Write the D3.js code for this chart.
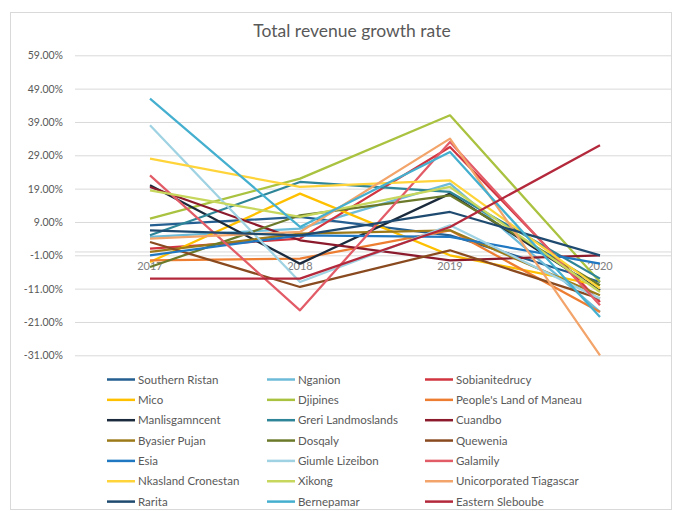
<!DOCTYPE html>
<html>
<head>
<meta charset="utf-8">
<script src="https://cdn.jsdelivr.net/npm/d3@7"></script>
<style>
  body { margin: 0; background: #fff; }
  svg { display: block; font-family: Lato, "Open Sans", sans-serif; }
</style>
</head>
<body>
<svg id="chart" width="677" height="511"></svg>
<script>
const years = ["2017", "2018", "2019", "2020"];
const yTicks = [59, 49, 39, 29, 19, 9, -1, -11, -21, -31];

const names = [
  "Southern Ristan", "Nganion", "Sobianitedrucy",
  "Mico", "Djipines", "People's Land of Maneau",
  "Manlisgamncent", "Greri Landmoslands", "Cuandbo",
  "Byasier Pujan", "Dosqaly", "Quewenia",
  "Esia", "Giumle Lizeibon", "Galamily",
  "Nkasland Cronestan", "Xikong", "Unicorporated Tiagascar",
  "Rarita", "Bernepamar", "Eastern Sleboube"
];

const colors = [
  "#255e91", "#6cbbd9", "#d2353f",
  "#ffc000", "#a9c23f", "#ed7d31",
  "#1b2b3d", "#2e8598", "#8b1a2c",
  "#9c7a1a", "#6b7a2a", "#8a4a20",
  "#1f78c1", "#9fd2e2", "#e25c68",
  "#ffd43a", "#c7d65c", "#f2a46a",
  "#1f4a70", "#45afcf", "#b4283c"
];

// growth rate in %, one array per series, 2017..2020
const values = [
  [8, 10.5, 5, -9],
  [4.5, 7, 20.5, -18],
  [1, 4, 31.5, -15],
  [-3, 17.5, -1, -10],
  [10, 22, 41, -9],
  [-2.5, -2, 6.5, -18],
  [20, -3.5, 17.5, -11.5],
  [5, 21, 18, -8],
  [19.5, 3.5, -2.5, -1],
  [0, 5.5, 6.5, -13],
  [-4.5, 11, 17, -10],
  [3, -10.5, 0.5, -14],
  [-1, 5, 4.5, -3.5],
  [38, -9, 8, -14],
  [23, -17.5, 33, -16],
  [28, 19.5, 21.5, -11],
  [18.5, 10.5, 19.5, -12],
  [4, 6, 34, -31],
  [6.5, 5, 12, -1],
  [46, 7.5, 30, -19.5],
  [-8, -8, 7.5, 32]
];

const svg = d3.select("#chart");

// chart frame
svg.append("rect")
  .attr("x", 10.5).attr("y", 12.5)
  .attr("width", 661).attr("height", 497)
  .attr("fill", "#fff")
  .attr("stroke", "#d9d9d9");

svg.append("text")
  .attr("x", 352).attr("y", 37)
  .attr("text-anchor", "middle")
  .attr("font-size", 17.5)
  .attr("fill", "#595959")
  .text("Total revenue growth rate");

const x = d3.scalePoint().domain(years).range([75, 675]).padding(0.5);
const y = d3.scaleLinear().domain([-31, 59]).range([355.3, 55.3]);

// gridlines + y labels
const yAxis = d3.axisLeft(y).tickValues(yTicks)
  .tickSize(-597)
  .tickFormat(d => d.toFixed(2) + "%");

svg.append("g")
  .attr("transform", "translate(75,0)")
  .call(yAxis)
  .call(g => g.select(".domain").remove())
  .call(g => g.selectAll(".tick line").attr("stroke", "#d9d9d9"))
  .call(g => g.selectAll(".tick text")
    .attr("x", -12)
    .attr("fill", "#595959")
    .attr("font-size", 10.5)
    .attr("font-family", "Lato, 'Open Sans', sans-serif"));

// category axis at zero
svg.append("line")
  .attr("x1", 75).attr("x2", 672)
  .attr("y1", y(0)).attr("y2", y(0))
  .attr("stroke", "#d9d9d9");

svg.append("g")
  .selectAll("text")
  .data(years)
  .join("text")
  .attr("x", d => x(d))
  .attr("y", y(0) + 18)
  .attr("text-anchor", "middle")
  .attr("font-size", 11)
  .attr("fill", "#808080")
  .text(d => d);

const line = d3.line()
  .x((d, i) => x(years[i]))
  .y(d => y(d));

svg.append("g")
  .selectAll("path")
  .data(values)
  .join("path")
  .attr("d", d => line(d))
  .attr("fill", "none")
  .attr("stroke", (d, i) => colors[i])
  .attr("stroke-width", 2.25)
  .attr("stroke-linejoin", "round");

// legend, 3 columns
const colX = [107, 267, 425];
const legend = svg.append("g")
  .selectAll("g")
  .data(names)
  .join("g")
  .attr("transform", (d, i) => `translate(${colX[i % 3]},${379.5 + Math.floor(i / 3) * 20.35})`);

legend.append("line")
  .attr("x1", 0).attr("x2", 28)
  .attr("stroke", (d, i) => colors[i])
  .attr("stroke-width", 2.5);

legend.append("text")
  .attr("x", 31)
  .attr("dy", "0.35em")
  .attr("font-size", 11.5)
  .attr("fill", "#595959")
  .text(d => d);
</script>
</body>
</html>
